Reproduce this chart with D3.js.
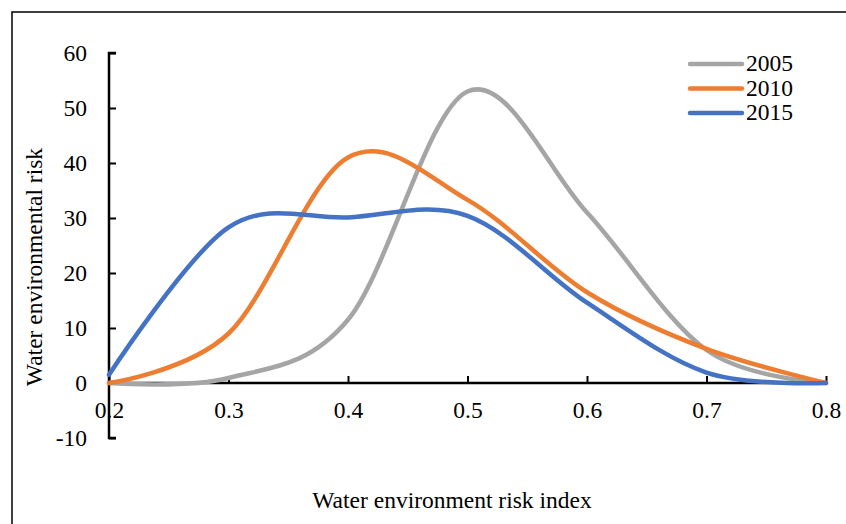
<!DOCTYPE html>
<html>
<head>
<meta charset="utf-8">
<script src="https://cdn.jsdelivr.net/npm/d3@7"></script>
<style>
  body { margin: 0; background: #fff; }
  svg text { font-family: "Liberation Serif", "Times New Roman", Times, serif !important; fill: #000; }
</style>
</head>
<body>
<div id="chart"></div>
<script>
// Data
const xValues = [0.2, 0.3, 0.4, 0.5, 0.6, 0.7, 0.8];
const years = ["2005", "2010", "2015"];
const risk2005 = [0, 0.9, 11.5, 53, 31, 6, 0];
const risk2010 = [0, 9, 41, 33.3, 16.5, 6.2, 0];
const risk2015 = [1.5, 28.3, 30.1, 30.4, 14.6, 1.9, 0];
const xTicks = [0.2, 0.3, 0.4, 0.5, 0.6, 0.7, 0.8];
const yTicks = [-10, 0, 10, 20, 30, 40, 50, 60];
const colors = ["#A5A5A5", "#ED7D31", "#4472C4"];

const width = 846, height = 524;
const series = [risk2005, risk2010, risk2015];
const serif = '"Liberation Serif", "Times New Roman", Times, serif';
const fontSize = "23.5px";

const svg = d3.select("#chart").append("svg")
    .attr("width", width)
    .attr("height", height);

// Outer frame (only top and left edges visible)
svg.append("rect")
    .attr("x", 12).attr("y", 12)
    .attr("width", 900).attr("height", 600)
    .attr("fill", "none")
    .attr("stroke", "#000")
    .attr("stroke-width", 1.5);

const x = d3.scaleLinear().domain([0.2, 0.8]).range([109, 826]);
const y = d3.scaleLinear().domain([-10, 60]).range([438, 53]);

// Y axis
const yAxis = svg.append("g")
    .attr("transform", `translate(${x(0.2)},0)`)
    .call(d3.axisRight(y).tickValues(yTicks).tickSize(7).tickFormat(d => String(d)));
yAxis.attr("font-family", serif);
yAxis.select(".domain").attr("stroke-width", 2.5).attr("d", `M7,${y(60)}H0V${y(-10)}H7`);
yAxis.selectAll(".tick line").attr("stroke-width", 2);
yAxis.selectAll(".tick text")
    .attr("x", -22)
    .attr("text-anchor", "end")
    .attr("dy", "0.3em")
    .style("font-size", fontSize);

// X axis at y = 0
const xAxis = svg.append("g")
    .attr("transform", `translate(0,${y(0)})`)
    .call(d3.axisTop(x).tickValues(xTicks).tickSize(7).tickFormat(d3.format(".1f")));
xAxis.attr("font-family", serif);
xAxis.select(".domain").attr("stroke-width", 2.5).attr("d", `M${x(0.2)},0H${x(0.8)}`);
xAxis.selectAll(".tick line").attr("stroke-width", 2);
xAxis.selectAll(".tick text")
    .attr("y", 28)
    .attr("dy", "0.3em")
    .style("font-size", fontSize);

// Lines
const line = d3.line()
    .x((d, i) => x(xValues[i]))
    .y(d => y(d))
    .curve(d3.curveCardinal.tension(0));

series.forEach((s, i) => {
    svg.append("path")
        .datum(s)
        .attr("fill", "none")
        .attr("stroke", colors[i])
        .attr("stroke-width", 4.5)
        .attr("stroke-linecap", "round")
        .attr("stroke-linejoin", "round")
        .attr("d", line);
});

// Legend
const legend = svg.append("g");
years.forEach((yr, i) => {
    const ly = 64 + i * 24.5;
    legend.append("line")
        .attr("x1", 690).attr("x2", 742)
        .attr("y1", ly).attr("y2", ly)
        .attr("stroke", colors[i])
        .attr("stroke-width", 4.5)
        .attr("stroke-linecap", "round");
    legend.append("text")
        .attr("x", 746).attr("y", ly)
        .attr("dy", "0.3em")
        .style("font-size", fontSize)
        .text(yr);
});

// Axis titles
svg.append("text")
    .attr("transform", `translate(35,267) rotate(-90)`)
    .attr("text-anchor", "middle")
    .attr("dy", "0.3em")
    .style("font-size", fontSize)
    .text("Water environmental risk");

svg.append("text")
    .attr("x", 452).attr("y", 501)
    .attr("text-anchor", "middle")
    .attr("dy", "0.3em")
    .style("font-size", fontSize)
    .text("Water environment risk index");
</script>
</body>
</html>
